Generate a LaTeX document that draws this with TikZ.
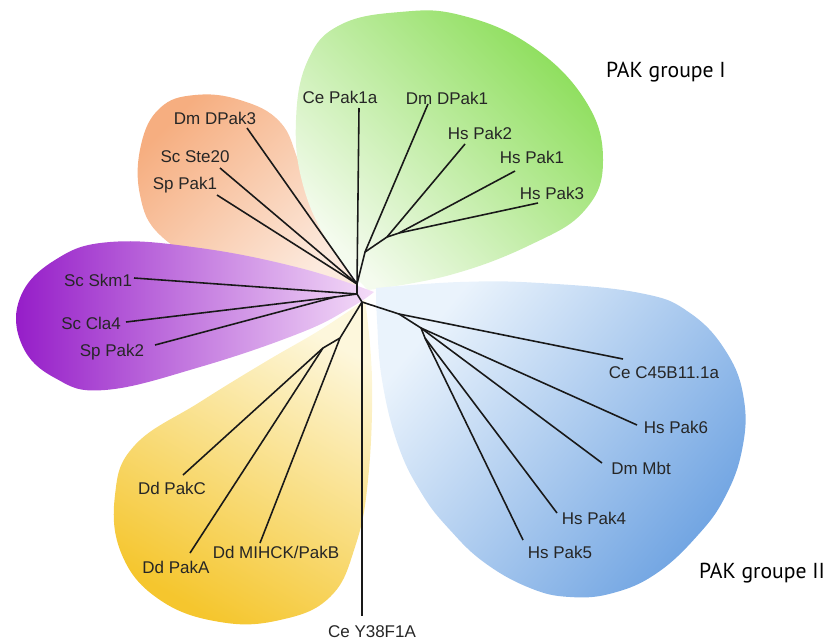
\documentclass[tikz,border=0pt]{standalone}
\usepackage{fontspec}
\setmainfont{Liberation Sans}
\newfontfamily\grpfont{PT Sans}
\definecolor{grnB}{HTML}{8CDE5A}
\definecolor{grnP}{HTML}{F4FBEE}
\definecolor{orgB}{HTML}{F6AE80}
\definecolor{orgP}{HTML}{FCEADE}
\definecolor{purB}{HTML}{951CC8}
\definecolor{purP}{HTML}{F4DCF8}
\definecolor{yelB}{HTML}{F5C62E}
\definecolor{yelP}{HTML}{FDF7DC}
\definecolor{bluB}{HTML}{70A4E2}
\definecolor{bluP}{HTML}{EAF3FC}
\begin{document}
\begin{tikzpicture}[x=0.03cm,y=-0.03cm,
  branch/.style={line width=1.35pt, black!90},
  leaf/.style={font=\fontsize{14.5}{16}\selectfont, text=black!85, inner sep=0pt},
  grp/.style={font=\grpfont\fontsize{18.5}{20}\selectfont, inner sep=0pt}]
\useasboundingbox (0,0) rectangle (825,641);

% ---- clade blobs ----
\shade[top color=orgB, bottom color=orgP, shading angle=45]
  plot[smooth, tension=0.7] coordinates {(358,288) (325,230) (300,165) (280,122) (240,100) (195,95) (160,108) (141,145) (140,195) (160,235) (210,262) (290,280) (358,288)} -- cycle;
\shade[top color=grnB, bottom color=grnP, shading angle=-45]
  plot[smooth, tension=0.7] coordinates {(368,290) (330,245) (303,185) (296,120) (308,60) (340,25) (400,12) (460,15) (530,45) (585,100) (603,160) (585,210) (530,245) (450,275) (368,290)} -- cycle;
\shade[top color=yelP, bottom color=yelB, shading angle=-30]
  plot[smooth, tension=0.7] coordinates {(365,300) (372,380) (368,480) (355,547) (330,597) (280,620) (220,622) (160,600) (122,555) (115,495) (135,445) (200,402) (265,362) (320,330) (365,300)} -- cycle;
\shade[left color=purB, right color=purP]
  plot[smooth, tension=0.7] coordinates {(374,292) (300,268) (200,248) (110,242) (55,260) (20,298) (22,345) (55,378) (105,390) (200,367) (300,333) (350,308) (374,292)} -- cycle;
\shade[top color=bluP, bottom color=bluB, shading angle=50]
  plot[smooth, tension=0.7] coordinates {(376,288) (460,282) (540,283) (640,293) (690,313) (727,353) (744,400) (742,450) (725,497) (698,535) (657,573) (613,593) (570,597) (530,588) (485,563) (450,530) (422,494) (398,445) (382,380) (377,320) (376,288)} -- cycle;

% ---- internal nodes ----
\coordinate (Nup) at (357,284);
\coordinate (Nmid) at (357,294);
\coordinate (Ndn) at (362,302);
\coordinate (G1) at (365,252);
\coordinate (H) at (387,237);
\coordinate (H2) at (399,233);
\coordinate (P1) at (335,297);
\coordinate (D1) at (340,338);
\coordinate (D2) at (323,348);
\coordinate (B1) at (399,314);
\coordinate (B2) at (421,328);
\coordinate (B3) at (425,338);

% ---- leaf tips ----
\coordinate (tCePak1a) at (359,108);
\coordinate (tDPak1) at (428,104);
\coordinate (tHsPak2) at (465,144);
\coordinate (tHsPak1) at (515,171);
\coordinate (tHsPak3) at (538,203);
\coordinate (tDPak3) at (247,128);
\coordinate (tSte20) at (220,168);
\coordinate (tSpPak1) at (217,195);
\coordinate (tSkm1) at (134,278);
\coordinate (tCla4) at (126,322);
\coordinate (tSpPak2) at (155,345);
\coordinate (tPakC) at (183,475);
\coordinate (tPakA) at (190,553);
\coordinate (tMIHCK) at (260,543);
\coordinate (tY38) at (362,616);
\coordinate (tC45) at (623,359);
\coordinate (tPak6) at (637,425);
\coordinate (tMbt) at (602,463);
\coordinate (tPak4) at (557,513);
\coordinate (tPak5) at (523,540);

% ---- branches ----
\draw[branch] (Nup) -- (Nmid) -- (Ndn);
\draw[branch] (Nup) -- (tCePak1a);
\draw[branch] (Nup) -- (G1);
\draw[branch] (G1) -- (tDPak1);
\draw[branch] (G1) -- (H);
\draw[branch] (H) -- (tHsPak2);
\draw[branch] (H) -- (H2);
\draw[branch] (H2) -- (tHsPak1);
\draw[branch] (H2) -- (tHsPak3);
\draw[branch] (Nup) -- (tDPak3);
\draw[branch] (Nup) -- (tSte20);
\draw[branch] (Nup) -- (tSpPak1);
\draw[branch] (Nmid) -- (tSkm1);
\draw[branch] (Nmid) -- (P1);
\draw[branch] (P1) -- (tCla4);
\draw[branch] (P1) -- (tSpPak2);
\draw[branch] (Ndn) -- (D1);
\draw[branch] (D1) -- (tMIHCK);
\draw[branch] (D1) -- (D2);
\draw[branch] (D2) -- (tPakC);
\draw[branch] (D2) -- (tPakA);
\draw[branch] (Ndn) -- (tY38);
\draw[branch] (Ndn) -- (B1);
\draw[branch] (B1) -- (tC45);
\draw[branch] (B1) -- (B2);
\draw[branch] (B2) -- (tPak6);
\draw[branch] (B2) -- (tMbt);
\draw[branch] (B2) -- (B3);
\draw[branch] (B3) -- (tPak4);
\draw[branch] (B3) -- (tPak5);

% ---- labels ----
\node[leaf] (lCePak1a) at (340,97) {Ce Pak1a};
\node[leaf] (lDPak1) at (447,98) {Dm DPak1};
\node[leaf] (lHsPak2) at (480,133) {Hs Pak2};
\node[leaf] (lHsPak1) at (532,157) {Hs Pak1};
\node[leaf] (lHsPak3) at (552,193) {Hs Pak3};
\node[leaf] (lDPak3) at (215,118) {Dm DPak3};
\node[leaf] (lSte20) at (195,157) {Sc Ste20};
\node[leaf] (lSpPak1) at (185,185) {Sp Pak1};
\node[leaf] (lSkm1) at (98,280) {Sc Skm1};
\node[leaf] (lCla4) at (91,323) {Sc Cla4};
\node[leaf] (lSpPak2) at (112,352) {Sp Pak2};
\node[leaf] (lPakC) at (172,488) {Dd PakC};
\node[leaf] (lPakA) at (176,567) {Dd PakA};
\node[leaf] (lMIHCK) at (276,552) {Dd MIHCK/PakB};
\node[leaf] (lY38) at (372,632) {Ce Y38F1A};
\node[leaf] (lC45) at (664,373) {Ce C45B11.1a};
\node[leaf] (lPak6) at (676,427) {Hs Pak6};
\node[leaf] (lMbt) at (641,468) {Dm Mbt};
\node[leaf] (lPak4) at (594,518) {Hs Pak4};
\node[leaf] (lPak5) at (560,552) {Hs Pak5};
\node[grp] (gI) at (666,72) {PAK groupe I};
\node[grp] (gII) at (762,573) {PAK groupe II};
\end{tikzpicture}
\end{document}
